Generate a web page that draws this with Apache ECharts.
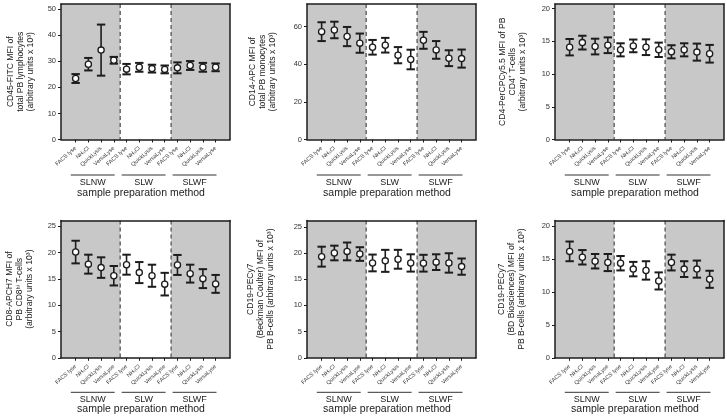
<!DOCTYPE html>
<html><head><meta charset="utf-8">
<script src="https://cdn.jsdelivr.net/npm/echarts@6/dist/echarts.min.js"></script>
<style>html,body{margin:0;padding:0;background:#fff}#c{width:727px;height:418px}</style>
</head><body><div id="c"></div>
<script>
// ---- data ----
const categories = ['FACS lyse', 'NH\u2084Cl', 'QuickLysis', 'VersaLyse'];
const groups = ['SLNW', 'SLW', 'SLWF'];
const shaded = [1, 0, 1];

const cd45Mean = [23.4, 28.9, 34.3, 30.4, 27.0, 27.7, 27.2, 26.9, 27.5, 28.4, 27.7, 27.7];
const cd45Sd   = [1.7, 2.4, 9.8, 1.3, 2.0, 1.7, 1.5, 1.5, 2.1, 1.7, 1.7, 1.5];
const cd14Mean = [57.3, 58.2, 54.7, 51.2, 49.0, 50.1, 44.8, 42.5, 52.7, 47.6, 43.2, 43.0];
const cd14Sd   = [5.0, 4.4, 5.1, 5.1, 3.9, 3.9, 4.3, 5.2, 4.5, 4.7, 4.2, 4.8];
const cd4Mean  = [14.1, 14.8, 14.2, 14.4, 13.7, 14.3, 14.1, 13.7, 13.4, 13.7, 13.35, 13.1];
const cd4Sd    = [1.25, 1.05, 1.2, 1.2, 1.0, 0.97, 1.2, 1.1, 1.0, 1.0, 1.3, 1.35];
const cd8Mean  = [20.1, 17.8, 17.15, 15.6, 17.7, 16.2, 15.6, 14.0, 17.65, 16.0, 15.05, 14.05];
const cd8Sd    = [2.15, 1.8, 1.95, 1.85, 1.9, 2.0, 2.1, 2.15, 1.9, 1.7, 1.8, 1.7];
const cd19bcMean = [19.3, 20.0, 20.3, 19.8, 18.1, 18.5, 18.8, 18.1, 18.05, 18.25, 18.1, 17.4];
const cd19bcSd   = [1.9, 1.4, 1.7, 1.3, 1.6, 2.1, 1.8, 1.65, 1.6, 1.5, 1.85, 1.55];
const cd19bdMean = [16.2, 15.3, 14.7, 14.5, 14.4, 13.5, 13.3, 11.7, 14.5, 13.5, 13.5, 11.95];
const cd19bdSd   = [1.5, 1.1, 1.1, 1.3, 1.1, 1.1, 1.4, 1.3, 1.2, 1.2, 1.3, 1.3];

const yTicks1 = [0, 10, 20, 30, 40, 50];
const yTicks2 = [0, 20, 40, 60];
const yTicks3 = [0, 5, 10, 15, 20];
const yTicks4 = [0, 5, 10, 15, 20, 25];
const yTicks5 = [0, 5, 10, 15, 20, 25];
const yTicks6 = [0, 5, 10, 15, 20];

const yNames = [
  'CD45-FITC MFI of\ntotal PB lymphocytes\n(arbitrary units x 10\u00b3)',
  'CD14-APC MFI of\ntotal PB monocytes\n(arbitrary units x 10\u00b3)',
  'CD4-PerCPCy5.5 MFI of PB\nCD4\u207a T-cells\n(arbitrary units x 10\u00b3)',
  'CD8-APCH7 MFI of\nPB CD8\u02b0\u2071 T-cells\n(arbitrary units x 10\u00b3)',
  'CD19-PECy7\n(Beckman Coulter) MFI of\nPB B-cells (arbitrary units x 10\u00b3)',
  'CD19-PECy7\n(BD Biosciences) MFI of\nPB B-cells (arbitrary units x 10\u00b3)'
];
const xTitle = 'sample preparation method';

// ---- layout ----
const FONT = '"Liberation Sans", Arial, Helvetica, sans-serif';
const panels = [
  {mean: cd45Mean, sd: cd45Sd, ticks: yTicks1, max: 52,   left: 61,  top: 4,     h: 135.5, gap: 25, row: 0},
  {mean: cd14Mean, sd: cd14Sd, ticks: yTicks2, max: 72,   left: 307, top: 4,     h: 135.5, gap: 29, row: 0},
  {mean: cd4Mean,  sd: cd4Sd,  ticks: yTicks3, max: 20.7, left: 555, top: 4,     h: 135.5, gap: 27, row: 0},
  {mean: cd8Mean,  sd: cd8Sd,  ticks: yTicks4, max: 26.1, left: 61,  top: 220.5, h: 137.3, gap: 26, row: 1},
  {mean: cd19bcMean, sd: cd19bcSd, ticks: yTicks5, max: 26.2, left: 307, top: 220.5, h: 137.3, gap: 31, row: 1},
  {mean: cd19bdMean, sd: cd19bdSd, ticks: yTicks6, max: 20.9, left: 555, top: 220.5, h: 137.3, gap: 28, row: 1}
];
const rowOff = [{line: 35.5, label: 43, title: 48.5}, {line: 34.5, label: 42, title: 45.5}];
const W = 169, XMIN = -0.15, XMAX = 13.13;
const nCat = categories.length;
const xPos = [];
groups.forEach((g, gi) => categories.forEach((c, ci) => xPos.push(gi * nCat + ci + 1)));
const xLabelOf = v => categories[(Math.round(v) - 1) % nCat];

const ink = '#1c1c1c';
const grids = [], xAxes = [], yAxes = [], series = [];

panels.forEach((p, i) => {
  grids.push({left: p.left, top: p.top, width: W, height: p.h});
  xAxes.push({
    type: 'value', gridIndex: i, min: XMIN, max: XMAX, position: 'bottom', z: 10,
    axisLine: {show: true, onZero: false, lineStyle: {color: ink, width: 1.5}},
    axisTick: {show: true, customValues: xPos, length: 3, inside: false, lineStyle: {color: ink, width: 1}},
    axisLabel: {show: true, customValues: xPos, rotate: 42, margin: 8, fontSize: 5.6, color: '#333',
      fontFamily: FONT, formatter: v => xLabelOf(v)},
    splitLine: {show: false},
    name: xTitle, nameLocation: 'middle', nameGap: rowOff[p.row].title,
    nameTextStyle: {fontSize: 10.5, color: '#222', fontFamily: FONT, padding: [0, 9, 0, 0]}
  });
  xAxes.push({
    type: 'value', gridIndex: i, min: XMIN, max: XMAX, position: 'top', z: 10,
    axisLine: {show: true, onZero: false, lineStyle: {color: ink, width: 1.5}},
    axisTick: {show: false}, axisLabel: {show: false}, splitLine: {show: false}
  });
  yAxes.push({
    type: 'value', gridIndex: i, min: 0, max: p.max, position: 'left', z: 10,
    axisLine: {show: true, onZero: false, lineStyle: {color: ink, width: 1.5}},
    axisTick: {show: true, customValues: p.ticks, length: 3, lineStyle: {color: ink, width: 1}},
    axisLabel: {show: true, customValues: p.ticks, margin: 5, fontSize: 7.5, color: '#333', fontFamily: FONT},
    splitLine: {show: false},
    name: yNames[i], nameLocation: 'middle', nameRotate: 90, nameGap: p.gap,
    nameTextStyle: {fontSize: 8.6, lineHeight: 10, color: '#222', fontFamily: FONT, align: 'center'}
  });
  yAxes.push({
    type: 'value', gridIndex: i, min: 0, max: p.max, position: 'right', z: 10,
    axisLine: {show: true, onZero: false, lineStyle: {color: ink, width: 1.5}},
    axisTick: {show: false}, axisLabel: {show: false}, splitLine: {show: false}
  });
  const xi = 2 * i, yi = 2 * i;

  // background shading + dashed separators
  series.push({
    type: 'custom', xAxisIndex: xi, yAxisIndex: yi, z: 1, silent: true,
    data: groups.map((g, gi) => [gi, shaded[gi]]),
    renderItem: (params, api) => {
      const gi = api.value(0), sh = api.value(1);
      const cs = params.coordSys;
      const a = api.coord([gi * nCat + 0.5, 0])[0];
      const b = api.coord([gi * nCat + nCat + 0.5, 0])[0];
      const x0 = gi === 0 ? cs.x : a;
      const x1 = gi === groups.length - 1 ? cs.x + cs.width : b;
      const ch = [];
      if (sh) ch.push({type: 'rect', shape: {x: x0, y: cs.y, width: x1 - x0, height: cs.height},
        style: {fill: '#c8c8c8'}});
      if (gi > 0) ch.push({type: 'line', shape: {x1: a, y1: cs.y, x2: a, y2: cs.y + cs.height},
        style: {stroke: '#4a4a4a', lineWidth: 1.2, lineDash: [4, 3]}, z2: 5});
      return {type: 'group', children: ch};
    }
  });

  // error bars
  series.push({
    type: 'custom', xAxisIndex: xi, yAxisIndex: yi, z: 3, silent: true,
    data: xPos.map((x, k) => [x, p.mean[k], p.sd[k]]),
    renderItem: (params, api) => {
      const x = api.value(0), m = api.value(1), s = api.value(2);
      const t = api.coord([x, m + s]), b = api.coord([x, m - s]);
      const cw = 4.2;
      return {type: 'group', children: [
        {type: 'line', shape: {x1: t[0], y1: t[1], x2: b[0], y2: b[1]}, style: {stroke: ink, lineWidth: 1.6}},
        {type: 'line', shape: {x1: t[0] - cw, y1: t[1], x2: t[0] + cw, y2: t[1]}, style: {stroke: ink, lineWidth: 2}},
        {type: 'line', shape: {x1: b[0] - cw, y1: b[1], x2: b[0] + cw, y2: b[1]}, style: {stroke: ink, lineWidth: 2}}
      ]};
    }
  });

  // means
  series.push({
    type: 'scatter', xAxisIndex: xi, yAxisIndex: yi, z: 4, silent: true,
    symbol: 'circle', symbolSize: 6.2,
    itemStyle: {color: '#fff', borderColor: ink, borderWidth: 1.3, opacity: 1},
    data: xPos.map((x, k) => [x, p.mean[k]])
  });

  // group underlines and labels
  const off = rowOff[p.row];
  series.push({
    type: 'custom', xAxisIndex: xi, yAxisIndex: yi, z: 3, silent: true, clip: false,
    data: groups.map((g, gi) => [gi]),
    renderItem: (params, api) => {
      const gi = api.value(0);
      const first = gi * nCat + 1, last = gi * nCat + nCat;
      const a = api.coord([first - 0.38, 0]), b = api.coord([last + 0.07, 0]);
      const y0 = a[1];
      return {type: 'group', children: [
        {type: 'line', shape: {x1: a[0], y1: y0 + off.line, x2: b[0], y2: y0 + off.line},
          style: {stroke: '#333', lineWidth: 1}},
        {type: 'text', x: (a[0] + b[0]) / 2, y: y0 + off.label,
          style: {text: groups[gi], fill: '#222', fontSize: 9, fontFamily: FONT,
            textAlign: 'center', textVerticalAlign: 'middle'}}
      ]};
    }
  });
});

const chart = echarts.init(document.getElementById('c'), null, {renderer: 'canvas'});
chart.setOption({
  animation: false,
  backgroundColor: '#fff',
  textStyle: {fontFamily: FONT},
  grid: grids, xAxis: xAxes, yAxis: yAxes, series: series
});
</script></body></html>
